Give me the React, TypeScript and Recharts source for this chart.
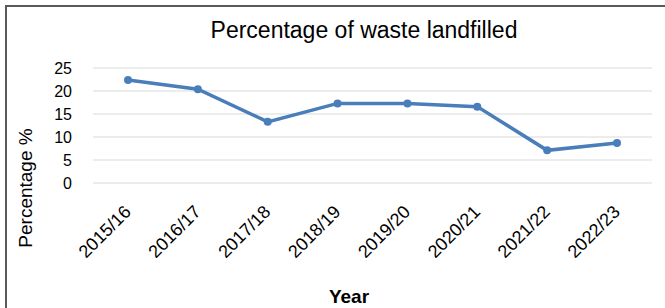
import { CartesianGrid, Line, LineChart, XAxis, YAxis } from "recharts"

const years = ["2015/16", "2016/17", "2017/18", "2018/19", "2019/20", "2020/21", "2021/22", "2022/23"]
const landfilled = [22.4, 20.4, 13.3, 17.3, 17.3, 16.6, 7.1, 8.7]
const yTicks = [0, 5, 10, 15, 20, 25]

const data = years.map((year, i) => ({ year, value: landfilled[i] }))

const font = "'Liberation Sans', Arial, sans-serif"
const blue = "#4a7ebb"

function YearTick(props: any) {
  const { x, y, payload } = props
  const ax = x + 4
  const ay = y + 30
  return (
    <text
      x={ax}
      y={ay}
      transform={`rotate(-45, ${ax}, ${ay})`}
      textAnchor="end"
      fontSize={18}
      fontFamily={font}
      fill="#000"
    >
      {payload.value}
    </text>
  )
}

export default function App() {
  return (
    <div style={{ position: "absolute", left: 0, top: 0, width: 665, height: 308, background: "#fff" }}>
      <div
        style={{
          position: "absolute",
          left: 5,
          top: 5,
          right: -10,
          bottom: -10,
          borderTop: "2px solid #595959",
          borderLeft: "2px solid #595959",
        }}
      />
      <LineChart width={665} height={308} data={data} margin={{ top: 68, right: 13, left: 0, bottom: 0 }}>
        <CartesianGrid vertical={false} stroke="#d9d9d9" />
        <XAxis
          dataKey="year"
          height={125}
          axisLine={false}
          tickLine={false}
          tickSize={0}
          tickMargin={0}
          interval={0}
          padding={{ left: 35, right: 35 }}
          tick={<YearTick />}
        />
        <YAxis
          width={93}
          domain={[0, 25]}
          ticks={yTicks}
          axisLine={false}
          tickLine={false}
          tickSize={0}
          tickMargin={21}
          tick={{ fontSize: 16, fontFamily: font, fill: "#000" }}
        />
        <Line
          type="linear"
          dataKey="value"
          stroke={blue}
          strokeWidth={3.5}
          dot={{ r: 4, fill: blue, stroke: blue, strokeWidth: 0 }}
          isAnimationActive={false}
        />
        <text x={364} y={38} textAnchor="middle" fontSize={23} fontFamily={font} fill="#000">
          Percentage of waste landfilled
        </text>
        <text
          x={32}
          y={188}
          transform="rotate(-90, 32, 188)"
          textAnchor="middle"
          fontSize={19}
          fontFamily={font}
          fill="#000"
        >
          Percentage %
        </text>
        <text x={349} y={303} textAnchor="middle" fontSize={19} fontWeight="bold" fontFamily={font} fill="#000">
          Year
        </text>
      </LineChart>
    </div>
  )
}
